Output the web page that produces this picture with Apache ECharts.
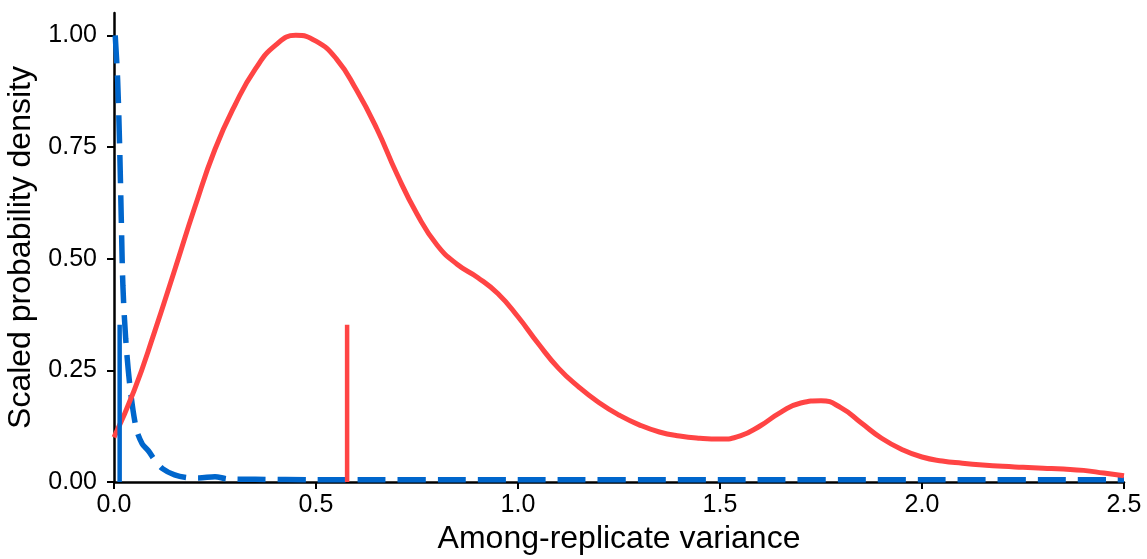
<!DOCTYPE html>
<html>
<head>
<meta charset="utf-8">
<script src="https://cdn.jsdelivr.net/npm/echarts@6/dist/echarts.min.js"></script>
<style>
  html, body { margin: 0; padding: 0; background: #fff; }
  #main { width: 1147px; height: 559px; }
</style>
</head>
<body>
<div id="main"></div>
<script>
// red density curve, read every 0.05
var redX = [0, 0.05, 0.1, 0.15, 0.2, 0.25, 0.3, 0.35, 0.4, 0.45, 0.5, 0.55, 0.6, 0.65, 0.7, 0.75, 0.8, 0.85, 0.9, 0.95,
            1.0, 1.05, 1.1, 1.15, 1.2, 1.25, 1.3, 1.35, 1.4, 1.45, 1.5, 1.55, 1.6, 1.65, 1.7, 1.75, 1.8, 1.85, 1.9, 1.95,
            2.0, 2.05, 2.1, 2.15, 2.2, 2.25, 2.3, 2.35, 2.4, 2.45, 2.5];
var redY = [0.10, 0.205, 0.335, 0.474, 0.615, 0.745, 0.845, 0.925, 0.978, 1.0, 0.987, 0.948, 0.878, 0.792, 0.69, 0.60, 0.530, 0.487, 0.458, 0.422,
            0.370, 0.31, 0.255, 0.213, 0.178, 0.150, 0.128, 0.112, 0.103, 0.098, 0.096, 0.103, 0.126, 0.156, 0.177, 0.182, 0.166, 0.132, 0.098, 0.073,
            0.056, 0.047, 0.042, 0.038, 0.035, 0.033, 0.031, 0.029, 0.026, 0.020, 0.014];

// blue dashed curve
var blueX = [0.003, 0.009, 0.014, 0.018, 0.022, 0.029, 0.040, 0.055, 0.070, 0.085, 0.100, 0.120, 0.150, 0.180, 0.210, 0.250, 0.280, 0.350, 0.5, 1.0, 1.5, 2.0, 2.5];
var blueY = [1.0, 0.90, 0.75, 0.59, 0.44, 0.32, 0.21, 0.12, 0.085, 0.07, 0.05, 0.03, 0.016, 0.01, 0.009, 0.012, 0.007, 0.006, 0.005, 0.005, 0.005, 0.005, 0.005];

// vertical markers: [x, height]
var blueMark = [0.014, 0.352];
var redMark = [0.577, 0.352];

var yTicks = [0, 0.25, 0.5, 0.75, 1];

function pairs(xs, ys) {
    return xs.map(function (x, i) { return [x, ys[i]]; });
}

var RED = '#FF4444';
var BLUE = '#0066CC';
var FONT = "'Liberation Sans', Arial, sans-serif";

var myChart = echarts.init(document.getElementById('main'));
var option = {
    animation: false,
    backgroundColor: '#fff',
    grid: { left: 114, right: 23, top: 13, bottom: 77, outerBoundsMode: 'none' },
    xAxis: {
        type: 'value',
        min: 0, max: 2.5, interval: 0.5,
        name: 'Among-replicate variance',
        nameLocation: 'middle',
        nameGap: 39,
        nameTextStyle: { fontFamily: FONT, fontSize: 32, color: '#000' },
        axisLine: { lineStyle: { color: '#000', width: 2.5 } },
        axisTick: { length: 7, lineStyle: { color: '#000', width: 2 } },
        axisLabel: {
            margin: 11, fontFamily: FONT, fontSize: 25, color: '#000',
            formatter: function (v) { return v.toFixed(1); }
        },
        splitLine: { show: false }
    },
    yAxis: {
        type: 'value',
        min: 0, max: 1.05, interval: 0.25,
        name: 'Scaled probability density',
        nameLocation: 'middle',
        nameGap: 76,
        nameTextStyle: { fontFamily: FONT, fontSize: 32, color: '#000' },
        axisLine: { show: true, lineStyle: { color: '#000', width: 2.5 } },
        axisTick: { show: true, length: 7, customValues: yTicks, lineStyle: { color: '#000', width: 2 } },
        axisLabel: {
            margin: 17, fontFamily: FONT, fontSize: 25, color: '#000',
            customValues: yTicks,
            formatter: function (v) { return v.toFixed(2); }
        },
        splitLine: { show: false }
    },
    series: [
        {
            type: 'line', data: pairs(blueX, blueY), symbol: 'none', smooth: 0.3,
            lineStyle: { color: BLUE, width: 5.5, type: [28, 12] }, z: 2
        },
        {
            type: 'line', data: pairs(redX, redY), symbol: 'none', smooth: 0.5,
            lineStyle: { color: RED, width: 5 }, z: 3
        },
        {
            type: 'line', data: [[blueMark[0], 0], [blueMark[0], blueMark[1]]], symbol: 'none',
            lineStyle: { color: BLUE, width: 4.5 }, z: 4
        },
        {
            type: 'line', data: [[redMark[0], 0], [redMark[0], redMark[1]]], symbol: 'none',
            lineStyle: { color: RED, width: 4.5 }, z: 4
        }
    ]
};
myChart.setOption(option);
</script>
</body>
</html>
